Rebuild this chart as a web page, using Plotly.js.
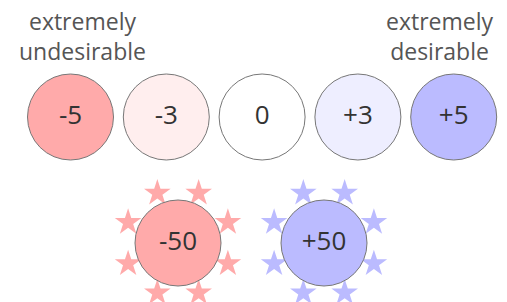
<!DOCTYPE html>
<html><head><meta charset="utf-8">
<script src="https://cdn.plot.ly/plotly-3.0.1.min.js"></script>
<style>html,body{margin:0;padding:0;background:#fff;}#chart{width:507px;height:302px;}</style>
</head><body><div id="chart"></div>
<script>
// Scale values (top row)
const scaleLabels = ["-5", "-3", "0", "+3", "+5"];
const scaleValues = [-5, -3, 0, 3, 5];
const scaleColors = ["#ffaaaa", "#ffeeee", "#ffffff", "#eeeeff", "#bbbbff"];
// Extreme values (bottom row)
const extremeLabels = ["-50", "+50"];
const extremeValues = [-50, 50];
const extremeColors = ["#ffaaaa", "#bbbbff"];
// End annotations
const endLabels = ["extremely<br>undesirable", "extremely<br>desirable"];

// layout: pixel-space placement
const topX = scaleValues.map((v, i) => 70.5 + i * 95.8);
const topY = scaleValues.map(() => 117);
const botX = extremeValues.map((v, i) => 178 + i * 146);
const botY = extremeValues.map(() => 243);
const starR = 54;
const FONT = "Open Sans, Noto Sans, sans-serif";

const traces = [];
traces.push({
  type: "scatter", mode: "markers+text", x: topX, y: topY,
  text: scaleLabels, textposition: "middle center",
  textfont: {family: FONT, size: 26, color: "#333"},
  marker: {symbol: "circle", size: 86, color: scaleColors, line: {color: "#777", width: 1}},
  hoverinfo: "none", cliponaxis: false
});
extremeValues.forEach((v, i) => {
  const sx = [], sy = [];
  for (let k = 0; k < 8; k++) {
    const a = (22.5 + 45 * k) * Math.PI / 180;
    sx.push(botX[i] + starR * Math.sin(a));
    sy.push(botY[i] - starR * Math.cos(a));
  }
  traces.push({
    type: "scatter", mode: "markers", x: sx, y: sy,
    marker: {symbol: "star", size: 20, color: extremeColors[i], line: {width: 0}},
    hoverinfo: "none", cliponaxis: false
  });
});
traces.push({
  type: "scatter", mode: "markers+text", x: botX, y: botY,
  text: extremeLabels, textposition: "middle center",
  textfont: {family: FONT, size: 26, color: "#333"},
  marker: {symbol: "circle", size: 86, color: extremeColors, line: {color: "#777", width: 1}},
  hoverinfo: "none", cliponaxis: false
});

const annFont = {family: FONT, size: 23, color: "#555"};
const layout = {
  width: 507, height: 302,
  margin: {l: 0, r: 0, t: 0, b: 0},
  paper_bgcolor: "#fff", plot_bgcolor: "#fff",
  showlegend: false,
  xaxis: {range: [0, 507], visible: false, fixedrange: true},
  yaxis: {range: [302, 0], visible: false, fixedrange: true},
  annotations: [
    {x: 82, y: 36, xref: "x", yref: "y", text: endLabels[0], showarrow: false, font: annFont, align: "center", xanchor: "center", yanchor: "middle"},
    {x: 439, y: 36, xref: "x", yref: "y", text: endLabels[1], showarrow: false, font: annFont, align: "center", xanchor: "center", yanchor: "middle"}
  ]
};
Plotly.newPlot("chart", traces, layout, {staticPlot: true, displayModeBar: false});
</script></body></html>
